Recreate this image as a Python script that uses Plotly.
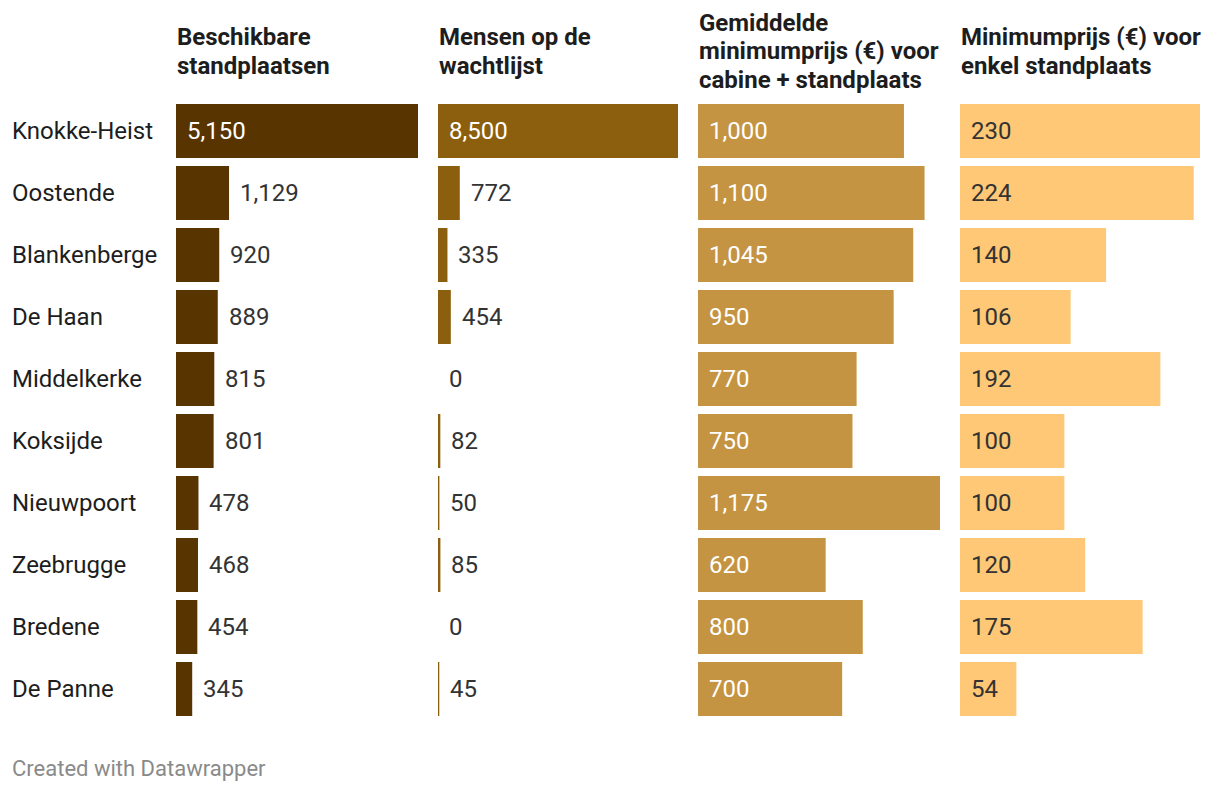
import plotly.graph_objects as go

# ---- data ----
cities = ["Knokke-Heist", "Oostende", "Blankenberge", "De Haan", "Middelkerke",
          "Koksijde", "Nieuwpoort", "Zeebrugge", "Bredene", "De Panne"]
standplaatsen = [5150, 1129, 920, 889, 815, 801, 478, 468, 454, 345]
wachtlijst = [8500, 772, 335, 454, 0, 82, 50, 85, 0, 45]
prijs_cabine = [1000, 1100, 1045, 950, 770, 750, 1175, 620, 800, 700]
prijs_standplaats = [230, 224, 140, 106, 192, 100, 100, 120, 175, 54]

headers = [
    ["Beschikbare", "standplaatsen"],
    ["Mensen op de", "wachtlijst"],
    ["Gemiddelde", "minimumprijs (€) voor", "cabine + standplaats"],
    ["Minimumprijs (€) voor", "enkel standplaats"],
]
series = [standplaatsen, wachtlijst, prijs_cabine, prijs_standplaats]
colors = ["#573400", "#8c5f0e", "#c49442", "#fec876"]
inside_text_colors = ["#ffffff", "#ffffff", "#ffffff", "#333333"]
footer = "Created with Datawrapper"

# ---- layout geometry (pixels) ----
W, H = 1220, 792
col_px = [(176, 418), (438, 678), (698, 940), (960, 1200)]
plot_top, plot_bottom = 100, 720
FONT = "Roboto, Arial, sans-serif"
FS = 24

def px_x(x):
    return x / W

def px_y(y):
    return 1 - y / H

fig = go.Figure()
axis_names = ["x", "x2", "x3", "x4"]
for i, vals in enumerate(series):
    fig.add_trace(go.Bar(
        y=cities, x=vals, orientation="h",
        marker=dict(color=colors[i], line=dict(width=0)),
        xaxis=axis_names[i], yaxis="y",
        hoverinfo="skip", showlegend=False,
    ))

layout = dict(
    width=W, height=H, margin=dict(l=0, r=0, t=0, b=0),
    paper_bgcolor="white", plot_bgcolor="white",
    bargap=8 / 62,
    yaxis=dict(domain=[px_y(plot_bottom), px_y(plot_top)],
               categoryorder="array", categoryarray=cities,
               range=[len(cities) - 0.5, -0.5],
               showticklabels=False, showgrid=False, zeroline=False,
               showline=False, ticks="", fixedrange=True),
)
for i, vals in enumerate(series):
    key = "xaxis" if i == 0 else f"xaxis{i+1}"
    layout[key] = dict(domain=[px_x(col_px[i][0]), px_x(col_px[i][1])],
                       range=[0, max(vals)], anchor="y",
                       showticklabels=False, showgrid=False, zeroline=False,
                       showline=False, ticks="", fixedrange=True)
fig.update_layout(**layout)

annotations = []
# value labels
for i, vals in enumerate(series):
    width_px = col_px[i][1] - col_px[i][0]
    vmax = max(vals)
    xref = axis_names[i]
    for c, v in zip(cities, vals):
        txt = f"{v:,}"
        bar_px = v / vmax * width_px
        label_px = len(txt) * 0.5 * FS + 20
        inside = bar_px >= label_px
        annotations.append(dict(
            x=0 if inside else v, y=c, xref=xref, yref="y",
            text=txt, showarrow=False, xanchor="left", yanchor="middle",
            xshift=9, font=dict(family=FONT, size=FS,
                                color=inside_text_colors[i] if inside else "#333333"),
        ))
# category labels
for k, c in enumerate(cities):
    annotations.append(dict(
        x=0, y=c, xref="paper", yref="y", xanchor="left", yanchor="middle",
        xshift=10, text=c, showarrow=False,
        font=dict(family=FONT, size=FS, color="#1d1d1d"),
    ))
# headers (vertically centred block)
line_pitch = 28.5
for i, lines in enumerate(headers):
    n = len(lines)
    for j, line in enumerate(lines):
        baseline = 60 + (j - (n - 1) / 2) * line_pitch
        annotations.append(dict(
            x=px_x(col_px[i][0]), y=px_y(baseline - 8.5), xref="paper", yref="paper",
            xanchor="left", yanchor="middle", xshift=-1, text=f"<b>{line}</b>",
            showarrow=False, font=dict(family=FONT, size=24, color="#1d1d1d"),
        ))
# footer
annotations.append(dict(
    x=px_x(10), y=px_y(768), xref="paper", yref="paper", xanchor="left",
    yanchor="middle", text=footer, showarrow=False,
    font=dict(family=FONT, size=22, color="#8a8a8a"),
))
fig.update_layout(annotations=annotations)

fig.write_html("out.html", config={"displayModeBar": False, "staticPlot": True},
               post_script="document.body.style.margin='0px';")
